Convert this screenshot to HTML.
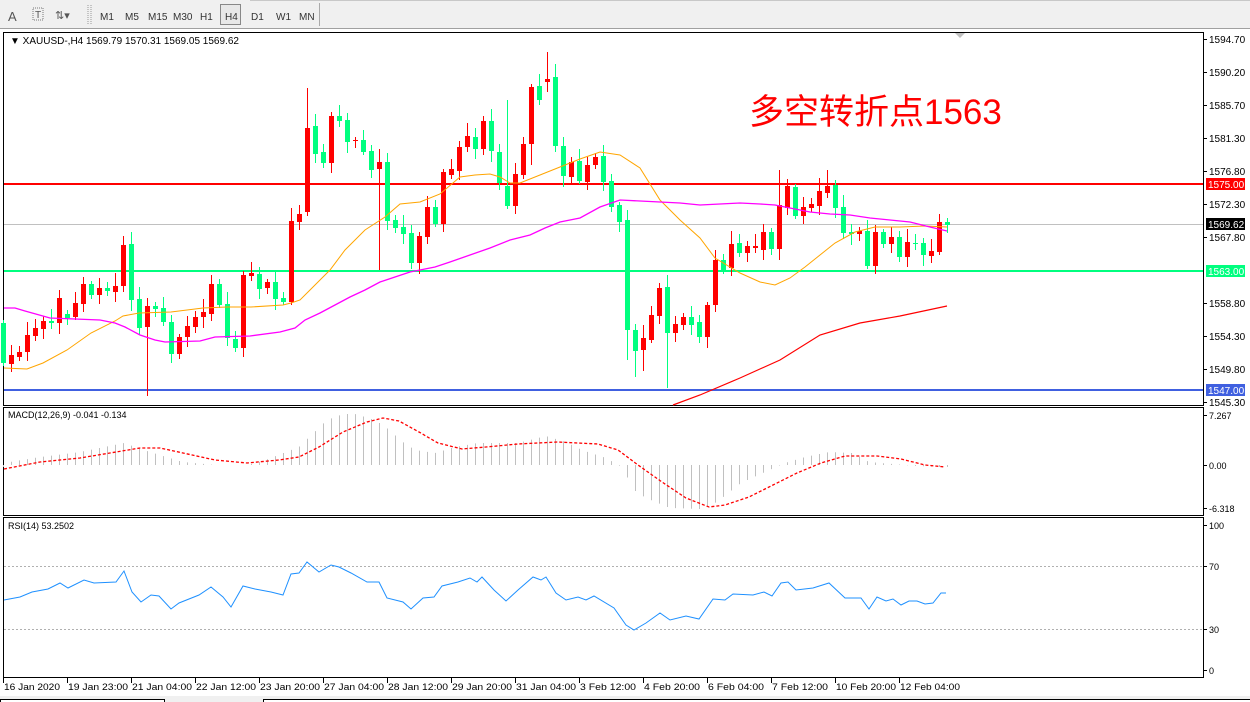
<!DOCTYPE html>
<html><head><meta charset="utf-8">
<style>
body{margin:0;width:1250px;height:702px;overflow:hidden;background:#fff;font-family:"Liberation Sans",sans-serif;}
svg{position:absolute;left:0;top:0}
</style></head><body>
<svg id="s" width="1250" height="702" xmlns="http://www.w3.org/2000/svg" font-family="Liberation Sans, sans-serif">
<rect x="0" y="0" width="1250" height="28" fill="#f0f0f0"/>
<line x1="0" y1="28.5" x2="1250" y2="28.5" stroke="#a0a0a0"/>
<line x1="250" y1="0.5" x2="1250" y2="0.5" stroke="#c8c8c8"/>
<text x="8" y="21" font-size="13" fill="#555">A</text>
<rect x="33" y="8" width="10" height="12" fill="none" stroke="#777" stroke-dasharray="1,1"/>
<text x="35" y="18" font-size="10" fill="#555">T</text>
<text x="55" y="19" font-size="11" fill="#555">⇅▾</text>
<line x1="88" y1="5" x2="88" y2="24" stroke="#999" stroke-dasharray="1,1"/>
<line x1="91" y1="5" x2="91" y2="24" stroke="#999" stroke-dasharray="1,1"/>
<g font-size="10" fill="#333">
<text x="100" y="20">M1</text><text x="125" y="20">M5</text><text x="148" y="20">M15</text><text x="173" y="20">M30</text><text x="200" y="20">H1</text>
<rect x="220.5" y="4.5" width="20" height="20" fill="#e8e8e8" stroke="#888"/><text x="225" y="20">H4</text>
<text x="251" y="20">D1</text><text x="276" y="20">W1</text><text x="299" y="20">MN</text>
</g>
<line x1="319.5" y1="3" x2="319.5" y2="26" stroke="#aaa"/>
<rect x="0" y="696" width="1250" height="6" fill="#f0f0f0"/>
<rect x="0.5" y="699.5" width="164" height="4" fill="#fff" stroke="#000"/>
<rect x="263.5" y="699.5" width="990" height="4" fill="#fff" stroke="#000"/>
<g id="g"></g>
</svg>
<script>
const g=document.getElementById('g');let h='';
function L(x1,y1,x2,y2,c,w,d){h+=`<line x1="${x1}" y1="${y1}" x2="${x2}" y2="${y2}" stroke="${c}" stroke-width="${w||1}"${d?` stroke-dasharray="${d}"`:''}/>`;}
function T(x,y,t,s,c,a){h+=`<text x="${x}" y="${y}" font-size="${s}" fill="${c||'#000'}"${a?` text-anchor="${a}"`:''}>${t}</text>`;}
function P(pts,c,w,d){h+=`<polyline fill="none" stroke="${c}" stroke-width="${w||1}"${d?` stroke-dasharray="${d}"`:''} points="${pts}"/>`;}
h+=`<rect x="3.5" y="32.5" width="1200" height="373" fill="none" stroke="#000"/>`;
h+=`<rect x="3.5" y="407.5" width="1200" height="108" fill="none" stroke="#000"/>`;
h+=`<rect x="3.5" y="517.5" width="1200" height="160" fill="none" stroke="#000"/>`;
L(4,224.5,1203,224.5,'#c0c0c0',1);
L(4,184,1203,184,'#ff0000',2);
L(4,271,1203,271,'#00ff7f',2);
L(4,390,1203,390,'#4060e0',2);
const ticks=[[39,'1594.70'],[72,'1590.20'],[105,'1585.70'],[138,'1581.30'],[171,'1576.80'],[204,'1572.30'],[237,'1567.80'],[303,'1558.80'],[336,'1554.30'],[369,'1549.80'],[402,'1545.30']];
ticks.forEach(t=>{L(1203,t[0]+.5,1207,t[0]+.5,'#000');T(1209,t[0]+4,t[1],10,'#000');});
function box(y,c,t,tc){h+=`<rect x="1206" y="${y-6}" width="39" height="12" fill="${c}"/>`;T(1208,y+4,t,10,tc||'#fff');}
box(184,'#ff0000','1575.00');box(224,'#000','1569.62');box(271,'#00ff7f','1563.00');box(390,'#4060e0','1547.00');
const d="G323,363 R355,364 R352,357 R335,352 R328,336 R321,329 G321,323 R298,323 G314,318 R303,317 R284,304 G284,295 R288,295 G288,291 R286,292 R245,286 G244,300 G299,328 R306,327 G306,309 G308,322 G322,354 R337,354 R326,337 R317,327 R312,317 R284,314 G284,305 G304,338 G339,348 R275,348 R273,276 G274,289 R282,288 G282,299 G298,302 R221,302 R214,222 R128,212 G126,154 G152,163 R116,163 G116,121 G120,142 R140,141 G140,152 G151,170 R162,169 G162,221 G220,228 G227,234 G233,263 R236,263 R207,237 G207,224 R172,224 R169,175 R147,171 R136,147 G137,149 R121,149 G121,151 G152,183 G186,206 R174,206 R144,175 R87,144 G86,100 R79,82 G77,146 G146,176 R162,177 G161,181 R165,182 R157,165 G156,182 G181,207 G205,222 G220,330 G330,351 R338,350 R315,340 R288,316 G287,333 R324,333 R317,325 G317,325 G322,337 R305,337 R260,305 G260,271 R244,268 G243,253 R246,253 R246,248 R232,250 G232,249 R205,249 R186,208 G187,216 R207,216 R204,208 R191,206 R186,193 G185,208 G207,233 G232,234 R231,234 G231,266 R232,266 G232,244 R237,244 G237,257 R242,257 G243,244 G243,255 R251,256 R222,252 G222,225".split(' ');
const ov={18:[null,396],68:[52,null],67:[74,null],16:[232,null],83:[null,388],79:[null,377],78:[null,360],80:[null,371],35:[null,305],38:[88,null],47:[null,270],63:[100,null],66:[null,165],97:[170,null],103:[170,null]};
d.forEach((s,i)=>{const x=3+8*i;const c=s[0]=='R'?'#ff0000':'#00ff7f';const [a,b]=s.slice(1).split(',').map(Number);
let hi=a-(3+((i*7)%11)),lo=b+(3+((i*5)%9));if(ov[i]){if(ov[i][0]!=null)hi=ov[i][0];if(ov[i][1]!=null)lo=ov[i][1];}
L(x+.5,hi,x+.5,lo,c,1);h+=`<rect x="${x-2}" y="${a}" width="5" height="${Math.max(1,b-a)}" fill="${c}"/>`;});
P("4,368 27,369 43,363 67,350 91,333 115,321 123,316 139,313 171,312 203,308 227,307 251,307 283,305 291,303 300,300 310,290 320,280 330,270 345,250 365,230 385,217 400,204 420,202 440,194 460,177 475,175 490,174 500,177 510,183 520,183 540,175 560,167 580,159 600,152 620,155 640,168 660,200 680,220 700,238 715,258 740,273 760,282 775,285 790,278 805,267 820,255 835,243 855,232 875,227 900,227 925,226 947,227",'#ffa500',1);
P("4,308 15,308 25,311 50,318 100,320 115,323 125,327 140,335 155,340 165,342 200,341 215,337 250,336 280,332 295,328 305,320 320,313 335,305 350,297 365,290 380,282 395,277 410,272 420,270 435,267 450,262 470,255 490,248 510,240 530,235 545,228 560,222 580,218 600,207 620,200 640,201 660,202 680,203 700,205 720,204 740,203 760,204 775,205 790,208 810,212 830,214 850,215 870,218 890,220 910,222 930,227 947,231",'#ff00ff',1.3);
P("673,405 700,395 740,378 780,360 820,335 860,323 900,316 947,306",'#ff0000',1.2);
T(10,44,'▼ XAUUSD-,H4  1569.79 1570.31 1569.05 1569.62',10,'#000');
h+=`<text x="749" y="124" font-size="35" fill="#ff0000" font-family="Liberation Sans, Noto Sans CJK SC, sans-serif">多空转折点1563</text>`;
h+=`<polygon points="955,33 965,33 960,38" fill="#c0c0c0"/>`;
const hist=[[4,463],[40,457],[80,452],[124,443],[150,452],[183,462],[215,465],[247,465],[263,461],[299,447],[327,420],[343,414],[355,414],[375,420],[387,428],[403,442],[415,450],[435,453],[455,447],[478,443],[518,443],[546,436],[566,442],[582,450],[606,458],[622,467],[634,490],[646,498],[670,508],[701,509],[717,502],[741,483],[765,472],[785,463],[805,457],[829,452],[853,453],[869,462],[893,464],[917,466],[941,467]];
function interp(arr,x){for(let k=0;k<arr.length-1;k++){if(x>=arr[k][0]&&x<=arr[k+1][0]){const t=(x-arr[k][0])/(arr[k+1][0]-arr[k][0]);return arr[k][1]+t*(arr[k+1][1]-arr[k][1]);}}return arr[arr.length-1][1];}
for(let i=0;i<119;i++){const x=3+8*i+.5;const y=interp(hist,x);L(x,465,x,y,'#c0c0c0',1);}
P("4,469 40,462 80,458 140,448 160,448 183,453 215,460 247,463 279,460 299,457 319,447 343,432 367,422 383,418 399,421 419,432 438,443 462,449 486,447 518,444 558,442 598,444 618,450 638,465 662,482 686,498 709,507 725,505 749,497 773,485 797,473 821,463 845,456 877,456 901,459 925,465 945,467",'#ff0000',1.3,'3,2');
T(8,418,'MACD(12,26,9) -0.041 -0.134',9,'#000');
L(1203,415.5,1207,415.5,'#000');T(1209,419,'7.267',9);
L(1203,465.5,1207,465.5,'#000');T(1209,469,'0.00',9);
L(1203,508.5,1207,508.5,'#000');T(1209,512,'-6.318',9);
L(4,566.5,1203,566.5,'#b0b0b0',1,'2,2');L(4,629.5,1203,629.5,'#b0b0b0',1,'2,2');
P("4,600 20,597 32,592 48,589 60,583 68,588 84,580 94,583 116,582 124,571 132,592 141,602 151,595 159,596 171,609 179,603 199,595 211,587 223,597 231,607 243,586 255,589 271,592 283,595 291,574 299,573 307,562 319,572 331,565 339,567 351,573 367,582 379,582 387,598 403,602 411,609 423,598 434,597 442,586 458,582 470,578 477,582 482,577 494,590 506,601 518,590 533,577 541,580 546,577 556,593 566,600 578,597 586,600 594,596 614,608 626,625 634,630 646,623 660,613 670,620 686,616 699,619 713,599 725,600 733,594 753,595 764,592 772,596 781,583 788,582 796,590 813,588 829,583 845,598 861,598 869,609 877,597 886,601 893,599 901,605 909,601 917,601 925,604 933,603 941,593 946,593",'#1e90ff',1);
T(8,529,'RSI(14) 53.2502',9,'#000');
[[525,'100'],[566,'70'],[629,'30'],[670,'0']].forEach(t=>{L(1203,t[0]+.5,1207,t[0]+.5,'#000');T(1209,t[0]+4,t[1],9);});
const tl=['16 Jan 2020','19 Jan 23:00','21 Jan 04:00','22 Jan 12:00','23 Jan 20:00','27 Jan 04:00','28 Jan 12:00','29 Jan 20:00','31 Jan 04:00','3 Feb 12:00','4 Feb 20:00','6 Feb 04:00','7 Feb 12:00','10 Feb 20:00','12 Feb 04:00'];
tl.forEach((t,k)=>{const x=3+64*k;L(x+.5,678,x+.5,683,'#000');h+=`<text x="${x+1}" y="690" font-size="9.5" fill="#000" textLength="${t.length>11?60:(t.length>10?56:52)}" lengthAdjust="spacingAndGlyphs">${t}</text>`;});
g.innerHTML=h;
</script>
</body></html>
